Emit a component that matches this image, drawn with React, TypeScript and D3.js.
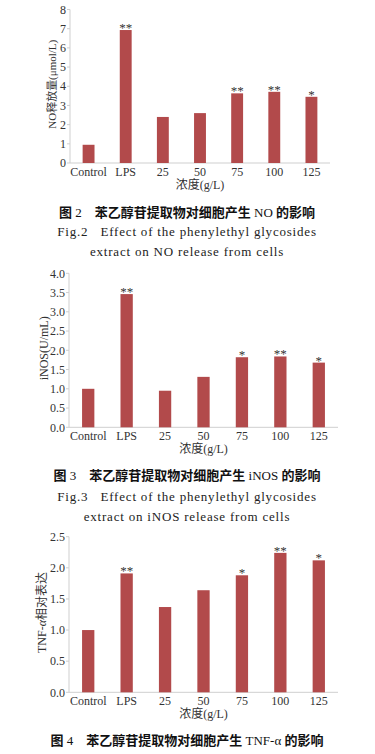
import React from "react";
import * as d3 from "d3";

// categories shared by all three figures
const categories = ["Control", "LPS", "25", "50", "75", "100", "125"];

// Fig.2 NO release
const noValues = [0.95, 6.93, 2.4, 2.6, 3.63, 3.71, 3.45];
const noStars = ["", "**", "", "", "**", "**", "*"];
const noTicks = [0, 1, 2, 3, 4, 5, 6, 7, 8];

// Fig.3 iNOS
const inosValues = [1.0, 3.46, 0.95, 1.31, 1.82, 1.84, 1.68];
const inosStars = ["", "**", "", "", "*", "**", "*"];
const inosTicks = [0, 0.5, 1, 1.5, 2, 2.5, 3, 3.5, 4];

// Fig.4 TNF-a
const tnfValues = [1.0, 1.91, 1.37, 1.64, 1.88, 2.24, 2.12];
const tnfStars = ["", "**", "", "", "*", "**", "*"];
const tnfTicks = [0, 0.5, 1, 1.5, 2, 2.5];

const BAR = "#b24a4b";
const TEXT = "#333";
const AXIS = "#cfcfcf";
const SERIF = "'Liberation Serif', 'DejaVu Serif', serif";
const CJK = "'Noto Sans CJK SC', sans-serif";

const BarChart = ({ values, stars, ticks, fmt, x0, x1, yTop, yBottom, labelX, labelSize, label }) => {
  const x = d3.scaleBand().domain(categories).range([x0, x1]).paddingInner(0.68).paddingOuter(0.34);
  const y = d3.scaleLinear().domain([0, ticks[ticks.length - 1]]).range([yBottom, yTop]);
  const midX = (x0 + x1) / 2;
  const midY = (yTop + yBottom) / 2;

  return (
    <g>
      {/* axes */}
      <line x1={x0} x2={x0} y1={yTop} y2={yBottom} stroke={AXIS} />
      <line x1={x0} x2={x1} y1={yBottom} y2={yBottom} stroke={AXIS} />
      {ticks.map((t) => (
        <g key={t}>
          <line x1={x0 - 3} x2={x0} y1={y(t)} y2={y(t)} stroke={AXIS} />
          <text x={x0 - 4} y={y(t)} dy="0.35em" textAnchor="end" fontSize={12} fill={TEXT} fontFamily={SERIF}>
            {d3.format(fmt)(t)}
          </text>
        </g>
      ))}
      {/* bars */}
      {values.map((v, i) => (
        <rect key={i} x={x(categories[i])} width={x.bandwidth()} y={y(v)} height={yBottom - y(v)} fill={BAR} />
      ))}
      {stars.map((s, i) => (
        <text key={i} x={x(categories[i]) + x.bandwidth() / 2} y={y(values[i]) + 2} textAnchor="middle" fontSize={13} fill={TEXT} fontFamily={SERIF}>
          {s}
        </text>
      ))}
      {categories.map((c) => (
        <text key={c} x={x(c) + x.bandwidth() / 2} y={yBottom + 13} textAnchor="middle" fontSize={12} fill={TEXT} fontFamily={SERIF}>
          {c}
        </text>
      ))}
      <text x={midX} y={yBottom + 26} textAnchor="middle" fontSize={12} fill={TEXT} fontFamily={SERIF}>
        <tspan fontFamily={CJK}>浓度</tspan>(g/L)
      </text>
      <text transform={`translate(${labelX},${midY - 2}) rotate(-90)`} textAnchor="middle" fontSize={labelSize} fill={TEXT} fontFamily={SERIF}>
        {label}
      </text>
    </g>
  );
};

const Caption = ({ num, subject, y }) => (
  <text x={187} y={y} textAnchor="middle" fontSize={13} fill="#111" fontFamily={CJK} fontWeight="bold">
    图<tspan fontFamily={SERIF} fontWeight="normal"> {num}</tspan>
    {"\u3000"}苯乙醇苷提取物对细胞产生<tspan fontFamily={SERIF} fontWeight="normal"> {subject} </tspan>的影响
  </text>
);

const EnCaption = ({ lines, y }) => (
  <g>
    {lines.map((l, i) => (
      <text key={i} x={187} y={y + i * 20} textAnchor="middle" fontSize={13} letterSpacing={0.8} fill="#222" fontFamily={SERIF}>
        {l}
      </text>
    ))}
  </g>
);

export default function App() {
  return (
    <svg width={375} height={754} style={{ position: "absolute", left: 0, top: 0, background: "#fff" }}>
      <BarChart
        values={noValues}
        stars={noStars}
        ticks={noTicks}
        fmt="d"
        x0={70}
        x1={330}
        yTop={9.5}
        yBottom={163}
        labelX={56}
        labelSize={11}
        label={<><tspan>NO</tspan><tspan fontFamily={CJK}>释放量</tspan><tspan>(μmol/L)</tspan></>}
      />
      <Caption num="2" subject="NO" y={217} />
      <EnCaption lines={["Fig.2\u00a0\u00a0\u00a0Effect of the phenylethyl glycosides", "extract on NO release from cells"]} y={236} />

      <BarChart
        values={inosValues}
        stars={inosStars}
        ticks={inosTicks}
        fmt=".1f"
        x0={69}
        x1={338}
        yTop={273.3}
        yBottom={427.3}
        labelX={48}
        labelSize={12}
        label="iNOS(U/mL)"
      />
      <Caption num="3" subject="iNOS" y={480} />
      <EnCaption lines={["Fig.3\u00a0\u00a0\u00a0Effect of the phenylethyl glycosides", "extract on iNOS release from cells"]} y={501} />

      <BarChart
        values={tnfValues}
        stars={tnfStars}
        ticks={tnfTicks}
        fmt=".1f"
        x0={69}
        x1={338}
        yTop={536.7}
        yBottom={692.3}
        labelX={46}
        labelSize={12}
        label={<><tspan>TNF-</tspan><tspan fontStyle="italic">α</tspan><tspan fontFamily={CJK}>相对表达</tspan></>}
      />
      <Caption num="4" subject="TNF-α" y={745} />
    </svg>
  );
}
